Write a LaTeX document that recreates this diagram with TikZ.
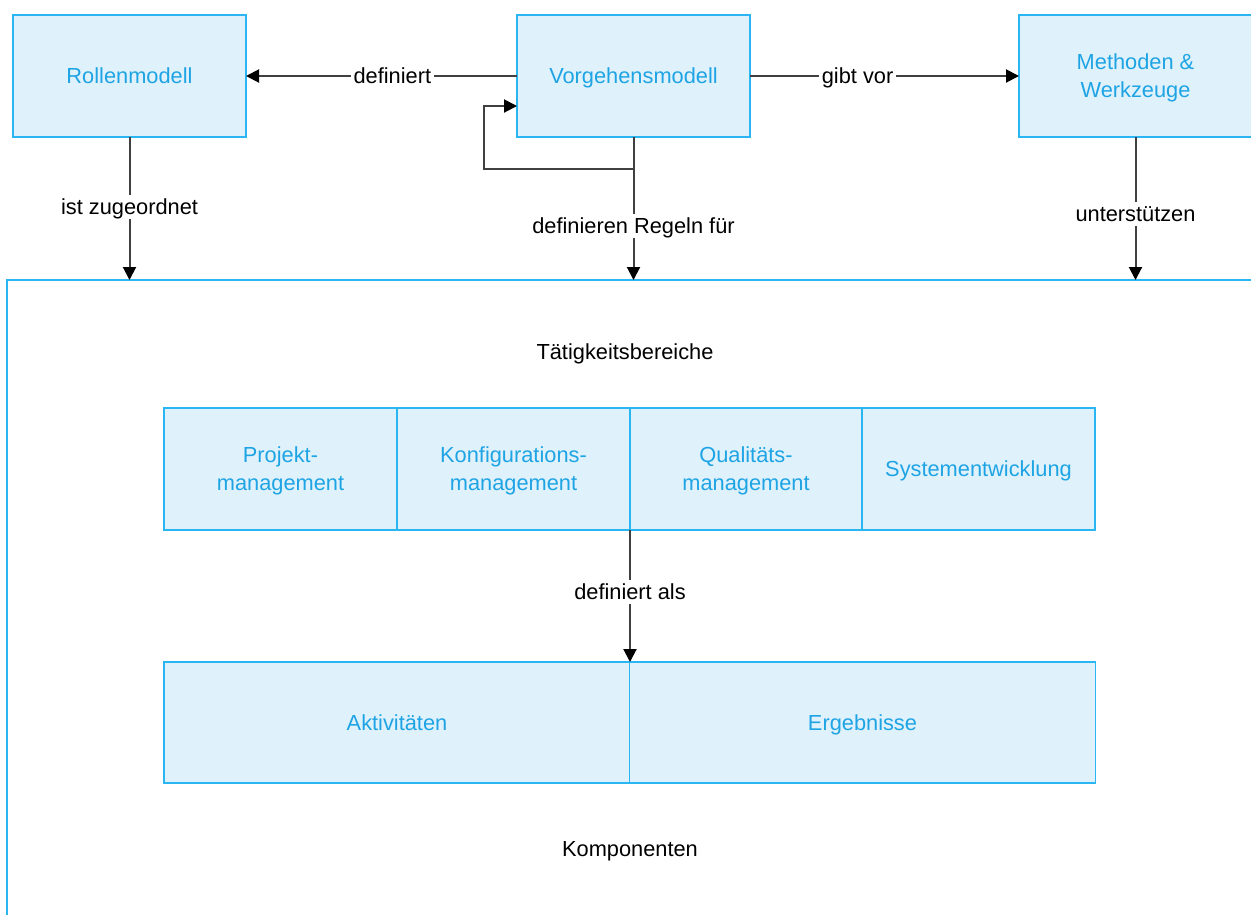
\documentclass[tikz,border=0pt]{standalone}
\usepackage{fontspec}
\setmainfont{Liberation Sans}
\usetikzlibrary{arrows.meta,positioning}
\definecolor{boxfill}{RGB}{223,242,252}
\definecolor{boxline}{RGB}{41,182,242}
\definecolor{boxtext}{RGB}{30,164,228}
\definecolor{connline}{RGB}{64,64,64}
\begin{document}
\begin{tikzpicture}[x=1pt,y=-1pt,
  every node/.style={font=\fontsize{21.8}{28}\selectfont, inner sep=0pt, outer sep=0pt},
  oneline/.style={text height=19.7pt, text depth=4.6pt},
  twoline/.style={text height=47.7pt, text depth=4.6pt},
  block/.style={draw=boxline, fill=boxfill, line width=1.7pt, text=boxtext,
    align=center, minimum width=233pt, minimum height=122pt},
  wide/.style={block, minimum width=466pt, minimum height=121pt},
  conn/.style={draw=connline, line width=2pt,
    -{Triangle[length=13pt,width=13pt,color=black,fill=black]}},
  lbl/.style={oneline, fill=white, text=black, inner xsep=3pt, inner ysep=0pt}]
  \useasboundingbox (0,0) rectangle (1251,914);
  \begin{scope}
  \clip (0,0) rectangle (1251,914);

  % outer frame holding the working areas
  \node[draw=boxline, line width=1.7pt, minimum width=1270pt, minimum height=660pt,
        anchor=north west] (frame) at (7,280) {};

  % top row
  \node[block, oneline] (rm) at (129.5,76) {Rollenmodell};
  \node[block, oneline] (vm) at (633.5,76) {Vorgehensmodell};
  \node[block, twoline] (mw) at (1135.5,76) {Methoden \&\\Werkzeuge};

  % activity areas
  \node[block, twoline] (pm) at (280.5,469) {Projekt-\\management};
  \node[block, twoline] (km) at (513.5,469) {Konfigurations-\\management};
  \node[block, twoline, minimum width=232pt] (qm) at (746,469) {Qualitäts-\\management};
  \node[block, oneline] (se) at (978.5,469) {Systementwicklung};

  % components
  \node[wide, oneline] (ak) at (397,722.5) {Aktivitäten};
  \node[wide, oneline] (eg) at (862.5,722.5) {Ergebnisse};

  % section captions
  \node[oneline] (tb) at (625,352) {Tätigkeitsbereiche};
  \node[oneline] (ko) at (630,849) {Komponenten};
  \end{scope}

  % connectors between the top boxes
  \draw[conn] (vm.west) -- node[lbl, pos=0.46] {definiert} (rm.east);
  \draw[conn] (vm.east) -- node[lbl, pos=0.4] {gibt vor} (mw.west);

  % self loop of the process model
  \coordinate (loopA) at (633.5,169);
  \coordinate (loopB) at (484,106);
  \draw[conn] (vm.south) -- (loopA) -| (loopB) -- (vm.west |- loopB);

  % connectors down into the frame
  \draw[conn] (rm.south) -- node[lbl, pos=0.49] {ist zugeordnet} (rm.south |- frame.north);
  \draw[conn] (vm.south) -- node[lbl, pos=0.62] {definieren Regeln für} (vm.south |- frame.north);
  \draw[conn] (mw.south) -- node[lbl, pos=0.54] {unterstützen} (mw.south |- frame.north);

  % from the activity areas to the components
  \draw[conn] (qm.south west) -- node[lbl, pos=0.47] {definiert als} (ak.north east);
\end{tikzpicture}
\end{document}
